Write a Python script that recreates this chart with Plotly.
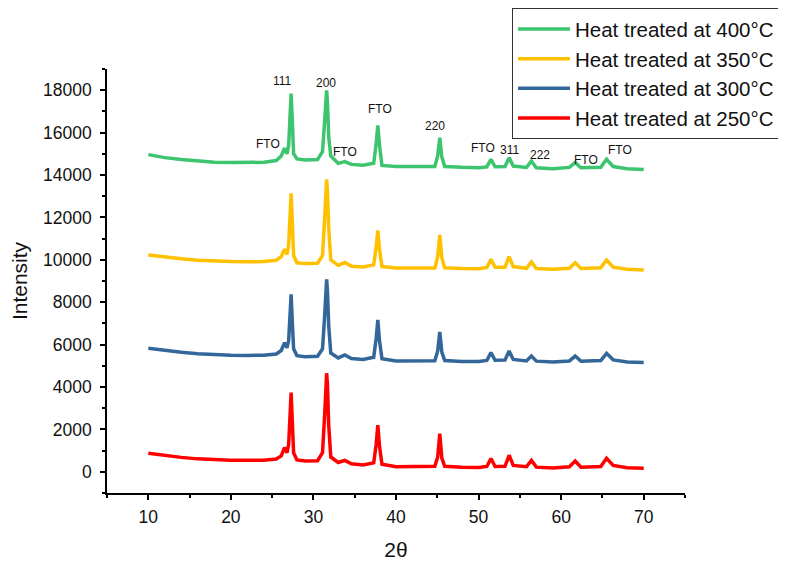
import plotly.graph_objects as go

# 2-theta sample positions (degrees)
two_theta = [10, 12, 14, 16, 18, 20, 22, 24, 25.5, 26.1, 26.5, 26.8, 27.0, 27.15, 27.3, 27.45,
             27.6, 28.0, 29, 30.5, 31.1, 31.35, 31.5, 31.6, 31.7, 31.85, 32.1, 33.0, 33.8, 34.6,
             36, 37.3, 37.6, 37.8, 38.0, 38.3, 40, 42, 44.7, 45.05, 45.3, 45.55, 45.9, 48, 50,
             51.0, 51.5, 52.0, 53.2, 53.7, 54.2, 55.8, 56.4, 57.0, 59, 61.0, 61.7, 62.4, 64.8,
             65.5, 66.3, 68, 70]

int_250 = [870, 760, 680, 610, 560, 540, 540, 550, 600, 750, 1140, 900, 1300, 2500, 3735, 2300,
           900, 560, 510, 520, 900, 2600, 4300, 4650, 4100, 2200, 700, 440, 540, 380,
           320, 420, 1300, 2200, 1200, 360, 240, 240, 260, 700, 1800, 650, 260, 210, 200,
           250, 630, 250, 260, 780, 300, 240, 540, 220, 180, 240, 510, 220, 250,
           635, 300, 190, 165]

int_300 = [5825, 5720, 5640, 5570, 5520, 5495, 5490, 5500, 5560, 5720, 6090, 5850, 6200, 7200, 8370, 7000,
           5800, 5480, 5430, 5450, 5800, 7300, 8700, 9080, 8500, 6900, 5600, 5370, 5510, 5340,
           5300, 5400, 6300, 7160, 6200, 5330, 5230, 5220, 5240, 5700, 6600, 5650, 5250, 5200, 5200,
           5250, 5620, 5260, 5270, 5700, 5300, 5230, 5460, 5220, 5180, 5230, 5460, 5220, 5250,
           5590, 5280, 5180, 5150]

int_350 = [10230, 10120, 10050, 9980, 9940, 9915, 9910, 9915, 9980, 10150, 10495, 10250, 10700, 11900, 13140, 11700,
           10200, 9860, 9820, 9840, 10200, 11900, 13300, 13800, 13200, 11500, 10000, 9740, 9870, 9700,
           9660, 9760, 10600, 11390, 10500, 9680, 9610, 9600, 9610, 10150, 11170, 10100, 9620, 9585, 9580,
           9640, 10020, 9650, 9650, 10150, 9680, 9600, 9900, 9590, 9550, 9600, 9866, 9590, 9620,
           9990, 9650, 9550, 9520]

int_400 = [14960, 14820, 14730, 14650, 14600, 14585, 14590, 14600, 14680, 14900, 15260, 15000, 15400, 16700, 17840, 16500,
           15000, 14760, 14710, 14730, 15100, 16500, 17600, 17990, 17400, 15800, 14900, 14550, 14630, 14500,
           14460, 14550, 15500, 16340, 15400, 14450, 14400, 14390, 14400, 14900, 15760, 14850, 14400, 14360, 14340,
           14380, 14740, 14390, 14400, 14820, 14420, 14360, 14650, 14340, 14300, 14360, 14585, 14340, 14360,
           14740, 14400, 14300, 14255]

series_names = ["Heat treated at 400°C", "Heat treated at 350°C",
                "Heat treated at 300°C", "Heat treated at 250°C"]
series_values = [int_400, int_350, int_300, int_250]
series_colors = ["#3DC46F", "#FFC000", "#336699", "#FF0000"]

# peak labels
label_text = ["FTO", "111", "200", "FTO", "FTO", "220", "FTO", "311", "222", "FTO", "FTO"]
label_x = [24.5, 26.3, 31.5, 33.8, 38.05, 44.7, 50.5, 53.8, 57.4, 63.0, 67.1]
label_y = [15450, 18430, 18320, 15100, 17100, 16310, 15260, 15160, 14960, 14690, 15160]

fig = go.Figure()
for name, vals, col in zip(series_names, series_values, series_colors):
    fig.add_trace(go.Scatter(x=two_theta, y=vals, mode="lines", name=name,
                             line=dict(color=col, width=3.5)))

for t, x, y in zip(label_text, label_x, label_y):
    fig.add_annotation(x=x, y=y, text=t, showarrow=False,
                       font=dict(family="Arial, Liberation Sans", size=12, color="#111"))

axis_font = dict(family="Arial, Liberation Sans", size=17.5, color="#111")
fig.update_layout(
    width=778, height=558,
    margin=dict(l=99, r=101, t=61, b=73, autoexpand=False),
    paper_bgcolor="white", plot_bgcolor="white",
    font=dict(family="Arial, Liberation Sans", color="#111"),
    legend=dict(x=0.7007, y=1.1435, xanchor="left", yanchor="top",
                bordercolor="#333", borderwidth=1,
                font=dict(family="Arial, Liberation Sans", size=20.5, color="#111"),
                itemwidth=52, tracegroupgap=0),
    xaxis=dict(range=[5, 75], dtick=10, tick0=0, showgrid=False, zeroline=False,
               showline=True, linecolor="black", linewidth=1.5,
               ticks="outside", ticklen=5, tickwidth=1.5, tickcolor="black",
               minor=dict(ticks="outside", dtick=5, ticklen=3, tickwidth=1.5, tickcolor="black"),
               tickfont=axis_font, ticklabelstandoff=2, automargin=False,
               title=dict(text="2θ", font=dict(family="Arial, Liberation Sans", size=21, color="#111"),
                          standoff=17)),
    yaxis=dict(range=[-1000, 19000], dtick=2000, tick0=0, showgrid=False, zeroline=False,
               showline=True, linecolor="black", linewidth=1.5, tickformat="d",
               ticks="outside", ticklen=5, tickwidth=1.5, tickcolor="black",
               minor=dict(ticks="outside", dtick=1000, ticklen=3, tickwidth=1.5, tickcolor="black"),
               tickfont=axis_font, ticklabelstandoff=5, automargin=False,
               title=dict(text="Intensity", font=dict(family="Arial, Liberation Sans", size=21, color="#111"),
                          standoff=18)),
)

fig.write_html("out.html")
